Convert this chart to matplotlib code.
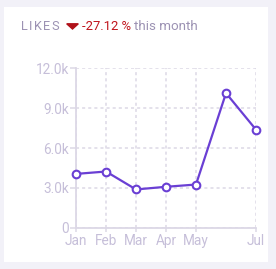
import matplotlib.pyplot as plt
from matplotlib.patches import Rectangle, Polygon

months = ['Jan', 'Feb', 'Mar', 'Apr', 'May', 'Jun', 'Jul']
likes = [4050, 4230, 2880, 3080, 3250, 10130, 7380]
shown_months = ['Jan', 'Feb', 'Mar', 'Apr', 'May', 'Jul']
y_ticks = [0, 3000, 6000, 9000, 12000]
y_labels = ['0', '3.0k', '6.0k', '9.0k', '12.0k']
title = 'LIKES'
change = '-27.12 %'

plt.rcParams['font.family'] = ['Roboto', 'DejaVu Sans']

W, H = 276, 269
fig = plt.figure(figsize=(W / 100, H / 100), dpi=100)
fig.patch.set_facecolor('#f2f1f8')
fig.add_artist(Rectangle((4 / W, 1 - 262 / H), 264 / W, 255 / H,
                         transform=fig.transFigure, facecolor='white',
                         edgecolor='none', zorder=0))

grey = '#dcd8e6'
label_col = '#c6bfd9'
line_col = '#6a3fd4'

ax = fig.add_axes([76 / W, 41.3 / H, 180 / W, 159.4 / H])
ax.set_facecolor('none')
x = list(range(len(months)))
ax.plot(x, likes, color=line_col, lw=1.6, marker='o', ms=5.5,
        mfc='white', mec=line_col, mew=1.5, zorder=5, clip_on=False)

ax.set_xlim(0, len(months) - 1)
ax.set_ylim(0, 12000)
ax.set_xticks([months.index(m) for m in shown_months])
ax.set_xticklabels(shown_months)
ax.set_yticks(y_ticks)
ax.set_yticklabels(y_labels)
ax.grid(True, color=grey, ls=(0, (2, 2)), lw=1.1)
for s in ['top', 'right']:
    ax.spines[s].set_visible(False)
for s in ['left', 'bottom']:
    ax.spines[s].set_color(grey)
    ax.spines[s].set_linewidth(1.3)
ax.tick_params(colors=grey, labelcolor=label_col, labelsize=9.8,
               length=4, width=1.1, pad=1)
ax.tick_params(axis='x', length=3, pad=1.5)

# header
ty = 1 - 26 / H
r = fig.canvas.get_renderer()
px = 20.5
for ch in title:
    t = fig.text(px / W, ty, ch, color='#9c92b3', fontsize=9.2,
                 va='center')
    px += t.get_window_extent(r).width + 1.5
fig.add_artist(Polygon([[66.7 / W, 1 - 23.8 / H], [78.3 / W, 1 - 23.8 / H],
                        [72.5 / W, 1 - 29 / H]], closed=True,
                       transform=fig.transFigure, color='#b0121a'))
fig.text(82.5 / W, ty, change, color='#c0141c', fontsize=9.4, va='center')
fig.text(134 / W, ty, 'this month', color='#9c92b3', fontsize=9.6,
         va='center')

fig.savefig('out.png', dpi=100, facecolor=fig.get_facecolor())
